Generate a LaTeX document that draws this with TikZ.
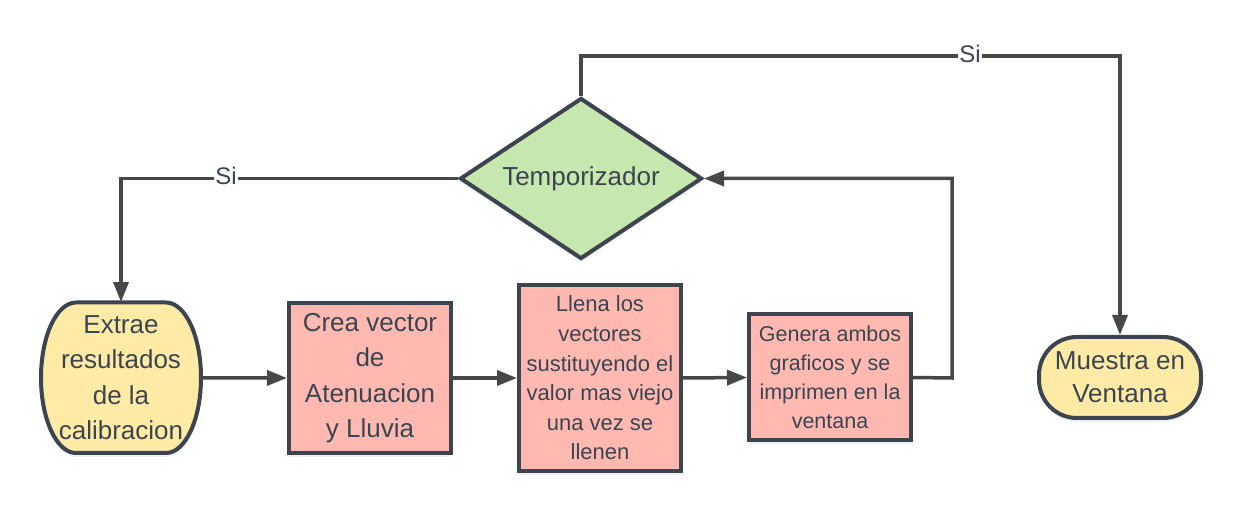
\documentclass[tikz,border=0pt]{standalone}
\usepackage{fontspec}
\setmainfont{Liberation Sans}
\usetikzlibrary{arrows.meta,shapes.geometric,shadows}
\definecolor{bord}{HTML}{3B444F}
\definecolor{txt}{HTML}{3B4550}
\definecolor{conn}{HTML}{474747}
\definecolor{yel}{HTML}{FFEBA6}
\definecolor{pnk}{HTML}{FFB9B1}
\definecolor{grn}{HTML}{C6E7AD}
\tikzset{
  shad/.style={drop shadow={shadow xshift=0pt,shadow yshift=-4pt,opacity=0.12}},
  boxnode/.style={draw=bord,line width=4pt,fill=pnk,text=txt,align=center,inner sep=0pt,shad},
  plain/.style={text=txt,align=center,inner sep=0pt},
  connector/.style={draw=conn,line width=3.5pt},
  arr/.style={connector,-{Triangle[length=20pt,width=15pt]}},
  lbl/.style={fill=white,text=txt,inner sep=1pt,font=\fontsize{24}{28}\selectfont}
}
\begin{document}
\begin{tikzpicture}[x=1pt,y=-1pt]
\useasboundingbox (0,0) rectangle (1240,510);

% Extrae (terminator shape)
\filldraw[draw=bord,fill=yel,line width=4pt,shad]
  (76,302.5) -- (166,302.5)
  arc[start angle=-90,end angle=90,x radius=35,y radius=75.25]
  -- (76,453) arc[start angle=90,end angle=270,x radius=35,y radius=75.25] -- cycle;
\node[plain,minimum width=162pt,minimum height=151pt,font=\fontsize{26}{35.3}\selectfont] (ext) at (121,377.75)
  {Extrae\\resultados\\de la\\calibracion};

\node[boxnode,minimum width=162pt,minimum height=150pt,font=\fontsize{26}{35.3}\selectfont] (cre) at (370,378)
  {Crea vector\\de\\Atenuacion\\y Lluvia};

\node[boxnode,minimum width=162pt,minimum height=185pt,font=\fontsize{22}{29.6}\selectfont] (lle) at (600,378)
  {Llena los\\vectores\\sustituyendo el\\valor mas viejo\\una vez se\\llenen};

\node[boxnode,minimum width=162pt,minimum height=126pt,font=\fontsize{21.5}{28.8}\selectfont] (gen) at (830,377.5)
  {Genera ambos\\graficos y se\\imprimen en la\\ventana};

\node[draw=bord,line width=4pt,fill=yel,text=txt,align=center,inner sep=0pt,shad,
  rounded corners=38pt,minimum width=162pt,minimum height=81pt,font=\fontsize{26}{33}\selectfont] (mue) at (1120,377.5)
  {Muestra en\\Ventana};

\node[diamond,aspect=1.5,draw=bord,line width=4pt,fill=grn,text=txt,inner sep=0pt,shad,
  minimum width=242pt,minimum height=161pt,font=\fontsize{26}{30}\selectfont] (tmp) at (581,178.5)
  {Temporizador};

\coordinate (tr) at (1120,56);
\coordinate (ll) at (121,178.5);
\coordinate (rr) at (952,378);

\draw[arr] (tmp.north) |- (tr) -- (mue.north);
\draw[arr] (tmp.west) -- (ll) -- (ext.north);
\draw[arr] (ext.east) -- (cre.west);
\draw[arr] (cre.east) -- (lle.west);
\draw[arr] (lle.east) -- (gen.west);
\draw[arr] (gen.east) -- (rr) |- (tmp.east);

\node[lbl] (si1) at (970,54) {Si};
\node[lbl] (si2) at (226,176) {Si};
\end{tikzpicture}
\end{document}
